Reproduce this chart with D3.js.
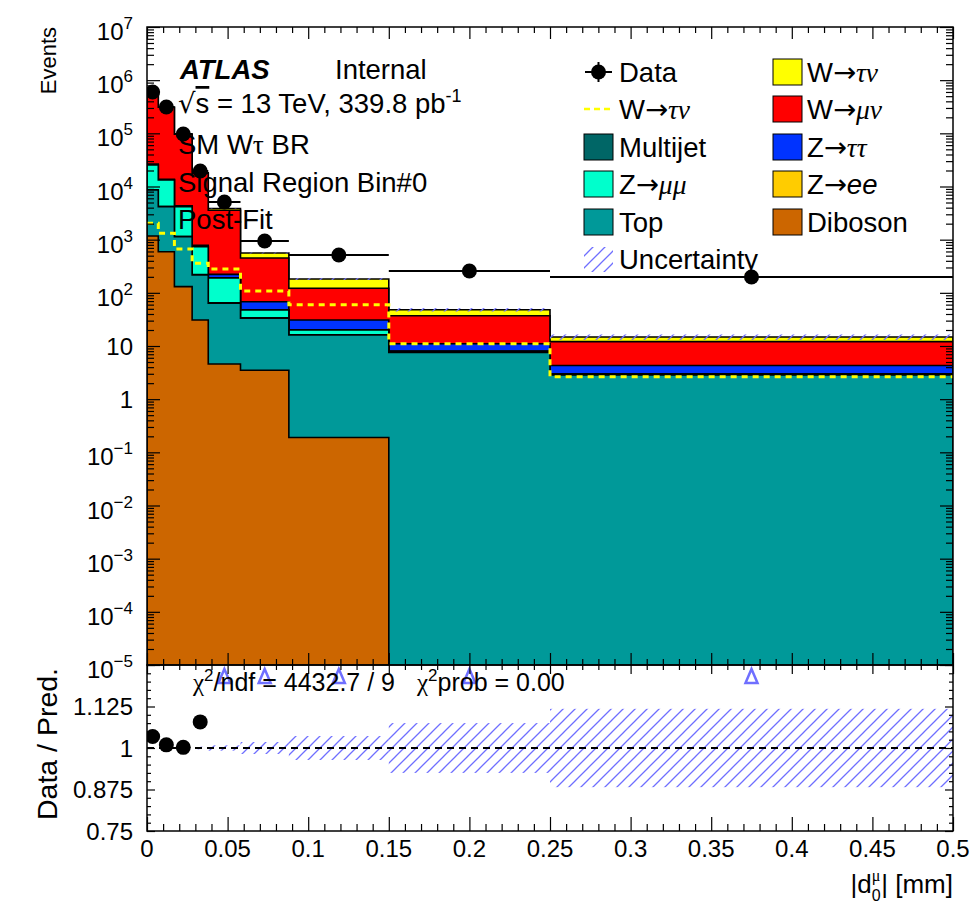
<!DOCTYPE html>
<html lang="en">
<head>
<meta charset="utf-8">
<title>|d0| signal region, post-fit</title>
<script src="https://d3js.org/d3.v7.min.js"></script>
<style>
  body { margin: 0; background: #fff; }
  text { font-family: "Liberation Sans", Arial, Helvetica, sans-serif; fill: #000; }
</style>
</head>
<body>
<script>
// binning in |d0| [mm]
var binEdges = [0, 0.007, 0.017, 0.028, 0.038, 0.058, 0.088, 0.15, 0.25, 0.5];

// observed events
var dataCounts = [599000, 313000, 97200, 19570, 5110, 944, 515, 258, 199];

// stacked backgrounds, bottom to top
var diboson  = [1170, 594, 131, 30.8, 4.6, 3.5, 0.19, 0, 0];
var topq     = [7430, 3580, 1010, 186, 59, 30, 15.9, 7.6, 2.85];
var multijet = [40, 20, 8, 3, 1, 0.4, 0.15, 0.05, 0.02];
var zmumu    = [16800, 9080, 3030, 521, 125, 13.5, 3.7, 0.3, 0.1];
var zee      = [90, 45, 15, 4, 1.5, 0.6, 0.3, 0.1, 0.04];
var ztautau  = [800, 400, 150, 40, 31.5, 20, 10.5, 3.0, 1.3];
var wmunu    = [550600, 295000, 92000, 17000, 3345, 385, 91, 26, 7.8];
var wtaunu   = [2030, 1320, 670, 360, 282, 108, 60, 11, 2.65];

// relative uncertainty of the prediction
var relUnc = [0.002, 0.002, 0.003, 0.004, 0.008, 0.018, 0.036, 0.075, 0.118];

var yTickExps = [-5, -4, -3, -2, -1, 0, 1, 2, 3, 4, 5, 6, 7];
var xTickVals = [0, 0.05, 0.1, 0.15, 0.2, 0.25, 0.3, 0.35, 0.4, 0.45, 0.5];
var xTickLabels = ["0", "0.05", "0.1", "0.15", "0.2", "0.25", "0.3", "0.35", "0.4", "0.45", "0.5"];
var rTickVals = [0.75, 0.875, 1, 1.125];
var rTickLabels = ["0.75", "0.875", "1", "1.125"];

var GR = "Liberation Serif, DejaVu Serif, serif";
var AR = "DejaVu Sans, sans-serif";

var layers = [
  {name: "Diboson",  vals: diboson,  color: "#cc6600"},
  {name: "Top",      vals: topq,     color: "#009999"},
  {name: "Multijet", vals: multijet, color: "#006666"},
  {name: "Zmumu",    vals: zmumu,    color: "#00ffcc"},
  {name: "Zee",      vals: zee,      color: "#ffcc00"},
  {name: "Ztautau",  vals: ztautau,  color: "#0033ff"},
  {name: "Wmunu",    vals: wmunu,    color: "#ff0000"},
  {name: "Wtaunu",   vals: wtaunu,   color: "#ffff00"}
];

var w = 973, h = 922;
var L = 147, R = 953, T = 27, M = 665, B = 831;

var x = d3.scaleLinear().domain([0, 0.5]).range([L, R]);
var y = d3.scaleLog().domain([1e-5, 1e7]).range([M, T]);
var yr = d3.scaleLinear().domain([0.75, 1.25]).range([B, M]);

var svg = d3.select("body").append("svg").attr("width", w).attr("height", h);
var defs = svg.append("defs");
defs.append("clipPath").attr("id", "cmain").append("rect")
  .attr("x", L).attr("y", T).attr("width", R - L).attr("height", M - T);
defs.append("clipPath").attr("id", "cratio").append("rect")
  .attr("x", L).attr("y", M).attr("width", R - L).attr("height", B - M);
var pat = defs.append("pattern").attr("id", "hatch").attr("patternUnits", "userSpaceOnUse")
  .attr("width", 12).attr("height", 12);
pat.append("path").attr("d", "M0,12 L12,0 M-3,3 L3,-3 M9,15 L15,9")
  .attr("stroke", "#6f6fff").attr("stroke-width", 1.3);

function yv(v) {
  if (!(v > 0)) return M + 2;
  return Math.max(T - 2, Math.min(M + 2, y(v)));
}

// cumulative sums for the stack
var nb = dataCounts.length;
var cum = [];
var run = d3.range(nb).map(function() { return 0; });
layers.forEach(function(l) {
  run = run.map(function(r, i) { return r + l.vals[i]; });
  cum.push({layer: l, tot: run.slice()});
});
var total = cum[cum.length - 1].tot;

function stepLine(vals) {
  var pts = [];
  for (var i = 0; i < nb; i++) {
    pts.push([x(binEdges[i]), yv(vals[i])]);
    pts.push([x(binEdges[i + 1]), yv(vals[i])]);
  }
  return pts;
}

var gMain = svg.append("g").attr("clip-path", "url(#cmain)");
// draw from top of the stack down so lower layers sit over the higher ones
cum.slice().reverse().forEach(function(c) {
  var pts = stepLine(c.tot);
  var area = [[L, M + 2]].concat(pts).concat([[R, M + 2]]);
  gMain.append("path").attr("d", d3.line()(area) + "Z")
    .attr("fill", c.layer.color).attr("stroke", "none");
  gMain.append("path").attr("d", d3.line()(area))
    .attr("fill", "none").attr("stroke", "#000").attr("stroke-width", 1.6);
});

// W->tau nu alone, dashed
gMain.append("path").attr("d", d3.line()(stepLine(wtaunu)))
  .attr("fill", "none").attr("stroke", "#ffff00").attr("stroke-width", 3)
  .attr("stroke-dasharray", "6,5");

// uncertainty band on the total
gMain.selectAll("rect.unc").data(d3.range(nb)).enter().append("rect")
  .attr("x", function(i) { return x(binEdges[i]); })
  .attr("width", function(i) { return x(binEdges[i + 1]) - x(binEdges[i]); })
  .attr("y", function(i) { return y(total[i] * (1 + relUnc[i])); })
  .attr("height", function(i) { return y(total[i] * (1 - relUnc[i])) - y(total[i] * (1 + relUnc[i])); })
  .attr("fill", "url(#hatch)");

// data
gMain.selectAll("line.xerr").data(d3.range(nb)).enter().append("line")
  .attr("x1", function(i) { return x(binEdges[i]); })
  .attr("x2", function(i) { return x(binEdges[i + 1]); })
  .attr("y1", function(i) { return y(dataCounts[i]); })
  .attr("y2", function(i) { return y(dataCounts[i]); })
  .attr("stroke", "#000").attr("stroke-width", 2);
gMain.selectAll("circle.dat").data(d3.range(nb)).enter().append("circle")
  .attr("cx", function(i) { return x((binEdges[i] + binEdges[i + 1]) / 2); })
  .attr("cy", function(i) { return y(dataCounts[i]); })
  .attr("r", 7.5).attr("fill", "#000");

// ratio panel
var gRat = svg.append("g").attr("clip-path", "url(#cratio)");
gRat.selectAll("rect.runc").data(d3.range(nb)).enter().append("rect")
  .attr("x", function(i) { return x(binEdges[i]); })
  .attr("width", function(i) { return x(binEdges[i + 1]) - x(binEdges[i]); })
  .attr("y", function(i) { return yr(1 + relUnc[i]); })
  .attr("height", function(i) { return yr(1 - relUnc[i]) - yr(1 + relUnc[i]); })
  .attr("fill", "url(#hatch)");
gRat.append("line").attr("x1", L).attr("x2", R).attr("y1", yr(1)).attr("y2", yr(1))
  .attr("stroke", "#000").attr("stroke-width", 2).attr("stroke-dasharray", "7,5");

var ratio = dataCounts.map(function(d, i) { return d / total[i]; });
var inRange = d3.range(nb).filter(function(i) { return ratio[i] <= 1.25 && ratio[i] >= 0.75; });
var over = d3.range(nb).filter(function(i) { return ratio[i] > 1.25; });
gRat.selectAll("circle.rdat").data(inRange).enter().append("circle")
  .attr("cx", function(i) { return x((binEdges[i] + binEdges[i + 1]) / 2); })
  .attr("cy", function(i) { return yr(ratio[i]); })
  .attr("r", 7.5).attr("fill", "#000");
svg.selectAll("path.arrowup").data(over).enter().append("path")
  .attr("d", function(i) {
    var cx = x((binEdges[i] + binEdges[i + 1]) / 2), t0 = yr(1.25) + 4;
    return "M" + (cx - 6) + "," + (t0 + 14) + "L" + cx + "," + t0 + "L" + (cx + 6) + "," + (t0 + 14) + "Z";
  })
  .attr("fill", "none").attr("stroke", "#6f6fff").attr("stroke-width", 2.5);

// frames
svg.append("rect").attr("x", L).attr("y", T).attr("width", R - L).attr("height", M - T)
  .attr("fill", "none").attr("stroke", "#000").attr("stroke-width", 1.5);
svg.append("rect").attr("x", L).attr("y", M).attr("width", R - L).attr("height", B - M)
  .attr("fill", "none").attr("stroke", "#000").attr("stroke-width", 1.5);

// ticks (inside the frames, like ROOT)
function ticks(axis, tr, vals, size) {
  svg.append("g").attr("transform", tr)
    .call(axis.tickValues(vals).tickSize(size).tickFormat(""))
    .call(function(g) {
      g.select(".domain").remove();
      g.selectAll("line").attr("stroke-width", 1.2);
    });
}
var yMajor = yTickExps.map(function(e) { return Math.pow(10, e); });
var yMinor = [];
yTickExps.slice(0, -1).forEach(function(e) {
  for (var m = 2; m <= 9; m++) yMinor.push(m * Math.pow(10, e));
});
var xMinor = d3.range(0, 51).map(function(i) { return i / 100; })
  .filter(function(v) { return Math.round(v * 100) % 5 !== 0; });
var rMajor = [0.75, 0.875, 1, 1.125, 1.25];
var rMinor = d3.range(0, 21).map(function(i) { return 0.75 + i * 0.025; })
  .filter(function(v, i) { return i % 5 !== 0; });

ticks(d3.axisLeft(y), "translate(" + L + ",0)", yMajor, -13);
ticks(d3.axisLeft(y), "translate(" + L + ",0)", yMinor, -7);
ticks(d3.axisRight(y), "translate(" + R + ",0)", yMajor, -13);
ticks(d3.axisRight(y), "translate(" + R + ",0)", yMinor, -7);
ticks(d3.axisTop(x), "translate(0," + T + ")", xTickVals, -12);
ticks(d3.axisTop(x), "translate(0," + T + ")", xMinor, -6);
ticks(d3.axisBottom(x), "translate(0," + M + ")", xTickVals, -12);
ticks(d3.axisBottom(x), "translate(0," + M + ")", xMinor, -6);
ticks(d3.axisTop(x), "translate(0," + M + ")", xTickVals, -9);
ticks(d3.axisTop(x), "translate(0," + M + ")", xMinor, -5);
ticks(d3.axisBottom(x), "translate(0," + B + ")", xTickVals, -14);
ticks(d3.axisBottom(x), "translate(0," + B + ")", xMinor, -7);
ticks(d3.axisLeft(yr), "translate(" + L + ",0)", rMajor, -8);
ticks(d3.axisLeft(yr), "translate(" + L + ",0)", rMinor, -4);
ticks(d3.axisRight(yr), "translate(" + R + ",0)", rMajor, -8);
ticks(d3.axisRight(yr), "translate(" + R + ",0)", rMinor, -4);

// rich text helper: parts with optional shift/size/font/italic
function rich(parent, px, py, parts, size, anchor) {
  var t = parent.append("text").attr("x", px).attr("y", py)
    .attr("font-size", size).attr("text-anchor", anchor || "start");
  var cur = 0;
  parts.forEach(function(p) {
    var s = t.append("tspan").text(p.t);
    var sh = p.sh || 0;
    if (sh !== cur) { s.attr("dy", sh - cur); cur = sh; }
    if (p.dx) s.attr("dx", p.dx);
    if (p.fs) s.attr("font-size", p.fs);
    if (p.ff) s.attr("font-family", p.ff);
    if (p.it) s.attr("font-style", "italic");
    if (p.bold) s.attr("font-weight", "bold");
    if (p.over) s.attr("text-decoration", "overline");
  });
  return t;
}

// y labels of main panel
yTickExps.forEach(function(e) {
  var ty = y(Math.pow(10, e));
  if (e === 0) rich(svg, 133, ty + 8.5, [{t: "1"}], 24, "end");
  else if (e === 1) rich(svg, 133, ty + 8.5, [{t: "10"}], 24, "end");
  else rich(svg, 133, ty + 13, [{t: "10"}, {t: e < 0 ? "\u2212" + (-e) : String(e), sh: -11, fs: 17}], 24, "end");
});
// ratio y labels
rTickVals.forEach(function(v, i) {
  rich(svg, 133, yr(v) + 8.5, [{t: rTickLabels[i]}], 24, "end");
});
// x labels
xTickVals.forEach(function(v, i) {
  rich(svg, x(v), 857, [{t: xTickLabels[i]}], 24, "middle");
});

// axis titles
svg.append("text").attr("transform", "translate(56," + T + ") rotate(-90)")
  .attr("text-anchor", "end").attr("font-size", 22).text("Events");
svg.append("text").attr("transform", "translate(57,744) rotate(-90)")
  .attr("text-anchor", "middle").attr("font-size", 28.5).text("Data / Pred.");
rich(svg, R, 893, [
  {t: "|d"}, {t: "0", sh: 8, fs: 16}, {t: "\u03bc", sh: -12, fs: 16, dx: -9, ff: GR},
  {t: "| [mm]", sh: 0, dx: 1}
], 26, "end");

// labels on the plot
var FS = 27.5;
rich(svg, 180, 79, [{t: "ATLAS", bold: true, it: true}], FS);
rich(svg, 335, 79, [{t: "Internal"}], FS);
rich(svg, 178, 113, [{t: "\u221a", ff: AR}, {t: "s", over: true}, {t: " = 13 TeV, 339.8 pb"},
  {t: "-1", sh: -11, fs: 18}], FS);
rich(svg, 178, 154, [{t: "SM W"}, {t: "\u03c4", ff: GR}, {t: " BR"}], FS);
rich(svg, 178, 192, [{t: "Signal Region Bin#0"}], FS);
rich(svg, 178, 229, [{t: "Post-Fit"}], FS);

// chi2
rich(svg, 193, 691, [{t: "\u03c7", ff: GR}, {t: "2", sh: -10, fs: 17}, {t: "/ndf = 4432.7 / 9", sh: 0}], 25);
rich(svg, 417, 691, [{t: "\u03c7", ff: GR}, {t: "2", sh: -10, fs: 17}, {t: "prob = 0.00", sh: 0}], 25);

// legend
var lg = svg.append("g");
var rowY = [72, 109, 147, 184, 222, 259];
var legendRows = [
  [{kind: "data", label: [{t: "Data"}]},
   {kind: "box", color: "#ffff00", label: [{t: "W"}, {t: "\u2192", ff: AR}, {t: "\u03c4\u03bd", ff: GR, it: true}]}],
  [{kind: "dash", label: [{t: "W"}, {t: "\u2192", ff: AR}, {t: "\u03c4\u03bd", ff: GR, it: true}]},
   {kind: "box", color: "#ff0000", label: [{t: "W"}, {t: "\u2192", ff: AR}, {t: "\u03bc\u03bd", ff: GR, it: true}]}],
  [{kind: "box", color: "#006666", label: [{t: "Multijet"}]},
   {kind: "box", color: "#0033ff", label: [{t: "Z"}, {t: "\u2192", ff: AR}, {t: "\u03c4\u03c4", ff: GR, it: true}]}],
  [{kind: "box", color: "#00ffcc", label: [{t: "Z"}, {t: "\u2192", ff: AR}, {t: "\u03bc\u03bc", ff: GR, it: true}]},
   {kind: "box", color: "#ffcc00", label: [{t: "Z"}, {t: "\u2192", ff: AR}, {t: "ee", it: true}]}],
  [{kind: "box", color: "#009999", label: [{t: "Top"}]},
   {kind: "box", color: "#cc6600", label: [{t: "Diboson"}]}],
  [{kind: "hatch", label: [{t: "Uncertainty"}]}]
];
var colX = [584, 773];
legendRows.forEach(function(row, r) {
  row.forEach(function(e, c) {
    var bx = colX[c], cy = rowY[r];
    if (e.kind === "box") {
      lg.append("rect").attr("x", bx).attr("y", cy - 13).attr("width", 29).attr("height", 26)
        .attr("fill", e.color).attr("stroke", "#000").attr("stroke-width", 1);
    } else if (e.kind === "hatch") {
      lg.append("rect").attr("x", bx).attr("y", cy - 12).attr("width", 29).attr("height", 25)
        .attr("fill", "url(#hatch)");
    } else if (e.kind === "dash") {
      lg.append("line").attr("x1", bx).attr("x2", bx + 29).attr("y1", cy).attr("y2", cy)
        .attr("stroke", "#ffff00").attr("stroke-width", 2.5).attr("stroke-dasharray", "6,4");
    } else {
      lg.append("line").attr("x1", bx + 1).attr("x2", bx + 28).attr("y1", cy).attr("y2", cy)
        .attr("stroke", "#000").attr("stroke-width", 2);
      lg.append("line").attr("x1", bx + 14.5).attr("x2", bx + 14.5).attr("y1", cy - 10).attr("y2", cy + 10)
        .attr("stroke", "#000").attr("stroke-width", 2);
      lg.append("circle").attr("cx", bx + 14.5).attr("cy", cy).attr("r", 7.5).attr("fill", "#000");
    }
    rich(lg, bx + (c === 0 ? 35 : 34), cy + 9.5, e.label, FS);
  });
});
</script>
</body>
</html>
